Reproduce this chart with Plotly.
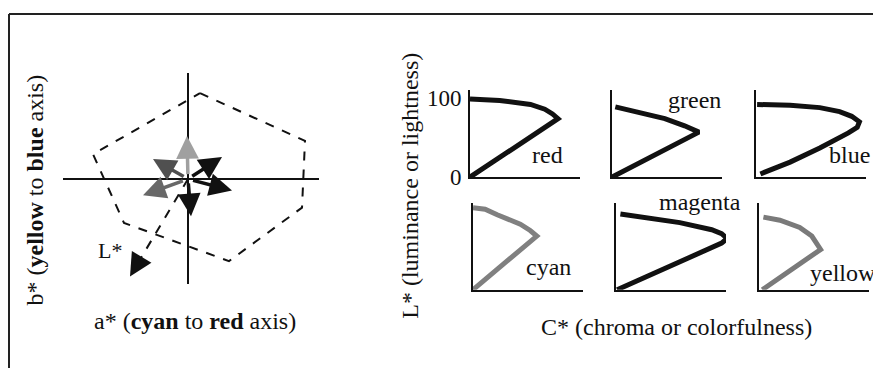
import plotly.graph_objects as go

# ---- left diagram: a*/b* plane ----
a_axis = [-125, 131]
b_axis = [111, -110]
hex_a = [12, 117, 114, 41, -64, -95, 12]
hex_b = [90, 40, -30, -86, -46, 26, 90]
arrow_tip_a = [-1, -35, 34, 44, 3, -45]
arrow_tip_b = [45, 21, 23, -12, -39, -17]
arrow_colors = ["#a0a0a0", "#505050", "#111111", "#111111", "#111111", "#686868"]
lstar_tip = (-58, -102)

# ---- right panels: C* vs L* per hue ----
hues = ["red", "green", "blue", "cyan", "magenta", "yellow"]
curve_C = {
    "red": [0, 27, 55, 68, 75, 80, 0],
    "green": [3, 25, 48, 66, 79, 0],
    "blue": [1, 31, 58, 76, 87, 94, 92, 84, 58, 31, 4],
    "cyan": [0, 11, 22, 43, 52, 58, 0],
    "magenta": [4, 58, 87, 96, 101, 96, 1],
    "yellow": [4, 19, 37, 48, 56, 3],
}
curve_L = {
    "red": [99, 97, 92, 86, 80, 74, 0],
    "green": [89, 82, 74, 65, 57, 0],
    "blue": [92, 91, 88, 83, 77, 70, 63, 56, 37, 19, 4],
    "cyan": [104, 102, 95, 83, 75, 68, 0],
    "magenta": [96, 85, 76, 71, 65, 59, 0],
    "yellow": [92, 88, 79, 68, 51, 0],
}
curve_colors = {"red": "#111111", "green": "#111111", "blue": "#111111",
                "cyan": "#808080", "magenta": "#111111", "yellow": "#7a7a7a"}
label_pos = {"red": (70, 28), "green": (75, 98), "blue": (85, 28),
             "cyan": (69, 29), "magenta": (76, 106), "yellow": (76, 21)}
label_shift = {"magenta": 4}
# panel origin on the page in pixels (left edge, bottom edge)
panel_origin = {"red": (470, 181), "green": (612, 181), "blue": (756, 181),
                "cyan": (473, 299), "magenta": (616, 299), "yellow": (759, 299)}

# the page body has an 8px margin, so the figure is shifted by that much
OFF = 8
W, H = 881 - OFF, 381 - OFF
FONT = "Liberation Serif, Times New Roman, serif"


def px(x):
    return (x - OFF) / W


def py(y):
    return 1 - (y - OFF) / H


fig = go.Figure()

# left diagram axes
fig.add_trace(go.Scatter(x=a_axis, y=[0, 0], mode="lines",
                         line=dict(color="#111", width=2), xaxis="x", yaxis="y"))
fig.add_trace(go.Scatter(x=[0, 0], y=b_axis, mode="lines",
                         line=dict(color="#111", width=2), xaxis="x", yaxis="y"))
fig.add_trace(go.Scatter(x=hex_a, y=hex_b, mode="lines",
                         line=dict(color="#111", width=2, dash="dash"), xaxis="x", yaxis="y"))
fig.add_trace(go.Scatter(x=[0, lstar_tip[0] * 0.85], y=[0, lstar_tip[1] * 0.85], mode="lines",
                         line=dict(color="#111", width=2, dash="dash"), xaxis="x", yaxis="y"))

annotations = []
for ta, tb, col in zip(arrow_tip_a, arrow_tip_b, arrow_colors):
    annotations.append(dict(x=ta, y=tb, ax=ta * 0.08, ay=tb * 0.08, xref="x", yref="y",
                            axref="x", ayref="y", text="", showarrow=True, arrowhead=2,
                            arrowsize=1.3, arrowwidth=3.5, arrowcolor=col))
annotations.append(dict(x=lstar_tip[0], y=lstar_tip[1], ax=lstar_tip[0] * 0.8, ay=lstar_tip[1] * 0.8,
                        xref="x", yref="y", axref="x", ayref="y", text="", showarrow=True,
                        arrowhead=2, arrowsize=1.3, arrowwidth=3.5, arrowcolor="#111"))
annotations.append(dict(x=-78, y=-75, xref="x", yref="y", text="L*", showarrow=False,
                        font=dict(size=22, color="#111", family=FONT)))

layout_axes = {}
layout_axes["xaxis"] = dict(domain=[px(38), px(338)], range=[-150, 150], visible=False)
layout_axes["yaxis"] = dict(domain=[py(313), py(53)], range=[-130, 130], visible=False)

for i, hue in enumerate(hues):
    n = i + 2
    x0, yb = panel_origin[hue]
    layout_axes[f"xaxis{n}"] = dict(
        domain=[px(x0), px(x0 + 110)], range=[0, 100], anchor=f"y{n}",
        showline=True, linecolor="#111", linewidth=2, showgrid=False, zeroline=False,
        showticklabels=False, ticks="")
    ydict = dict(
        domain=[py(yb), py(yb - 91)], range=[0, 110], anchor=f"x{n}",
        showline=True, linecolor="#111", linewidth=2, showgrid=False, zeroline=False,
        ticks="", showticklabels=False)
    if hue == "red":
        ydict.update(showticklabels=True, tickvals=[0, 100], ticktext=["0", "100"],
                     tickfont=dict(size=23, family=FONT, color="#111"), ticklabelstandoff=2)
    layout_axes[f"yaxis{n}"] = ydict
    fig.add_trace(go.Scatter(x=curve_C[hue], y=curve_L[hue], mode="lines",
                             line=dict(color=curve_colors[hue], width=5),
                             xaxis=f"x{n}", yaxis=f"y{n}", cliponaxis=False))
    lx, ly = label_pos[hue]
    annotations.append(dict(x=lx, y=ly, xref=f"x{n}", yref=f"y{n}", text=hue, showarrow=False,
                            xanchor="center", yanchor="middle", yshift=label_shift.get(hue, 0),
                            font=dict(size=24, color="#111", family=FONT)))

# axis titles
title_font = dict(size=24, color="#111", family=FONT)
annotations += [
    dict(x=px(35), y=py(195), xref="paper", yref="paper", textangle=-90, showarrow=False,
         xanchor="center", yanchor="middle",
         text="b* (<b>yellow</b> to <b>blue</b> axis)", font=title_font),
    dict(x=px(195), y=py(332), xref="paper", yref="paper", showarrow=False,
         xanchor="center", yanchor="middle",
         text="a* (<b>cyan</b> to <b>red</b> axis)", font=title_font),
    dict(x=px(410), y=py(190), xref="paper", yref="paper", textangle=-90, showarrow=False,
         xanchor="center", yanchor="middle",
         text="L* (luminance or lightness)", font=title_font),
    dict(x=px(676), y=py(338), xref="paper", yref="paper", showarrow=False,
         xanchor="center", yanchor="middle",
         text="C* (chroma or colorfulness)", font=title_font),
]

shapes = [
    dict(type="line", xref="paper", yref="paper", x0=px(9), x1=1, y0=py(10), y1=py(10),
         line=dict(color="#222", width=2)),
    dict(type="line", xref="paper", yref="paper", x0=px(9), x1=px(9), y0=py(10), y1=0,
         line=dict(color="#222", width=2)),
]

fig.update_layout(
    width=W, height=H, margin=dict(l=0, r=0, t=0, b=0),
    paper_bgcolor="white", plot_bgcolor="white", showlegend=False,
    annotations=annotations, shapes=shapes, **layout_axes,
)

fig.write_html("out.html")
